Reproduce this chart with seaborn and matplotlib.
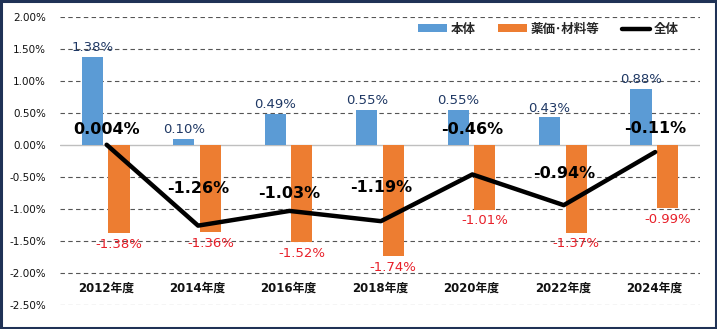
import numpy as np
import pandas as pd
import matplotlib
matplotlib.use("Agg")
import matplotlib.pyplot as plt
import seaborn as sns
from matplotlib.patches import Rectangle

years = ["2012年度", "2014年度", "2016年度", "2018年度", "2020年度", "2022年度", "2024年度"]
honntai = [1.38, 0.10, 0.49, 0.55, 0.55, 0.43, 0.88]
yakka = [-1.38, -1.36, -1.52, -1.74, -1.01, -1.37, -0.99]
zentai = [0.004, -1.26, -1.03, -1.19, -0.46, -0.94, -0.11]
zentai_labels = ["0.004%", "-1.26%", "-1.03%", "-1.19%", "-0.46%", "-0.94%", "-0.11%"]
series_names = ["本体", "薬価･材料等", "全体"]
yticks = [2.0, 1.5, 1.0, 0.5, 0.0, -0.5, -1.0, -1.5, -2.0, -2.5]

# layout-only offsets (pixels) for the total-line labels
line_label_dy = [15, 37, 17, 34, 45, 32, 24]

sns.set_theme(style="white")
plt.rcParams["font.family"] = ["DejaVu Sans", "Noto Sans CJK JP"]

df = pd.DataFrame({
    "year": years * 2,
    "series": [series_names[0]] * len(years) + [series_names[1]] * len(years),
    "value": honntai + yakka,
})

fig = plt.figure(figsize=(7.17, 3.29), dpi=100)
ax = fig.add_axes([60 / 717, 1 - 305 / 329, 640 / 717, 288 / 329])

BLUE = "#5B9BD5"
ORANGE = "#ED7D31"

sns.barplot(data=df, x="year", y="value", hue="series", order=years,
            hue_order=series_names[:2], palette=[BLUE, ORANGE],
            width=0.58, gap=0.2, ax=ax, saturation=1, zorder=2, linewidth=0)
xs = np.arange(len(years)) + 0.01
sns.lineplot(x=xs, y=zentai, color="black", linewidth=3.2, ax=ax,
             label=series_names[2], zorder=4)

ax.set_xlim(-0.5, len(years) - 0.5)
ax.set_ylim(-2.5, 2.0)
ax.set_yticks(yticks)
ax.set_yticklabels([f"{v:.2f}%" for v in yticks], fontsize=7.5, color="#111111")
ax.set_xticks([])
ax.set_xlabel("")
ax.set_ylabel("")
for s in ax.spines.values():
    s.set_visible(False)
ax.tick_params(axis="y", length=0, pad=10)

for v in yticks:
    if v == 0:
        ax.axhline(0, color="#BFBFBF", linewidth=1.0, zorder=1)
    else:
        ax.axhline(v, color="#555555", linewidth=0.8, linestyle=(0, (4, 3)), zorder=1)

# category labels inside plot area
for i, y in enumerate(years):
    ax.text(i, -2.24, y, ha="center", va="center", fontsize=8.5,
            fontweight="bold", color="#111111")

# bar labels
px = 4.5 / 288  # percent per pixel
for i, v in enumerate(honntai):
    ax.text(i - 0.145, v + 9 * px, f"{v:.2f}%", ha="center", va="center",
            fontsize=9.5, color="#1F3864", zorder=5)
for i, v in enumerate(yakka):
    ax.text(i + 0.145, v - 11 * px, f"{v:.2f}%", ha="center", va="center",
            fontsize=9.5, color="#E8202A", zorder=5)
for i, (v, lab) in enumerate(zip(zentai, zentai_labels)):
    ax.text(xs[i], v + line_label_dy[i] * px, lab, ha="center", va="center",
            fontsize=11.5, fontweight="bold", color="black", zorder=5)

handles, labels = ax.get_legend_handles_labels()
order = [labels.index(n) for n in series_names]
leg = ax.legend([handles[k] for k in order], [labels[k] for k in order],
                loc="center right", bbox_to_anchor=(0.985, 0.958), ncol=3,
                frameon=False, fontsize=9, handlelength=2.3, handleheight=0.55,
                columnspacing=1.8, handletextpad=0.3)
for t in leg.get_texts():
    t.set_fontweight("bold")

fig.patches.append(Rectangle((0.0015, 0.003), 0.997, 0.994, transform=fig.transFigure,
                             fill=False, edgecolor="#1F3256", linewidth=2.2))

fig.savefig("out.png", dpi=100)
